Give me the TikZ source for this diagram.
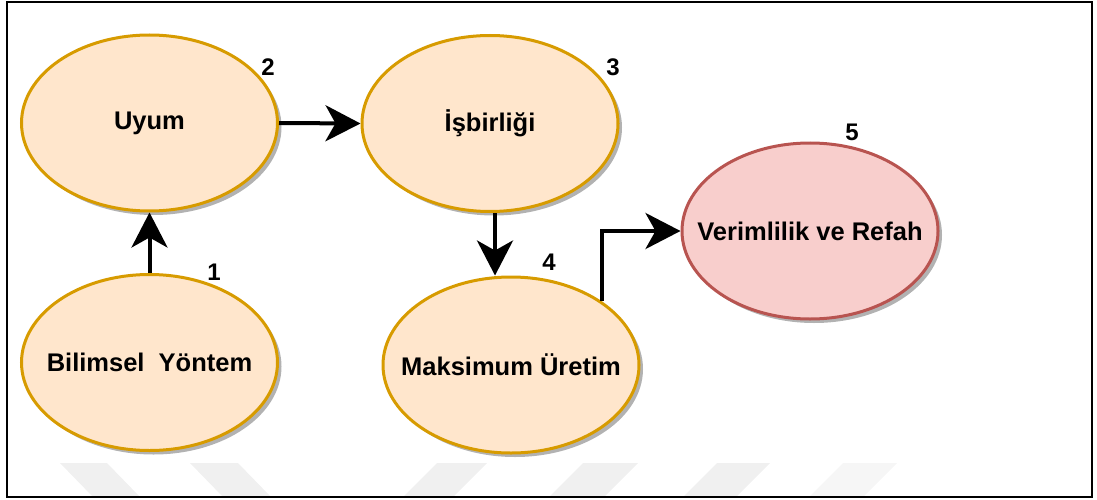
\documentclass[tikz,border=0pt]{standalone}
\usepackage{fontspec}
\setmainfont{Liberation Sans}
\usetikzlibrary{shapes.geometric,arrows.meta,shadows}
\definecolor{orfill}{HTML}{FFE6CC}
\definecolor{ordraw}{HTML}{D79B00}
\definecolor{rdfill}{HTML}{F8CECC}
\definecolor{rddraw}{HTML}{B85450}
\definecolor{wmark}{HTML}{F0F0F0}
\begin{document}
\begin{tikzpicture}[x=1pt,y=-1pt,
  bubble/.style={ellipse, minimum width=256pt, minimum height=176pt, inner sep=0pt,
    line width=3pt,
    drop shadow={shadow xshift=4pt, shadow yshift=-4pt, opacity=.3, fill=black},
    label={[font=\bfseries\fontsize{25.5}{28}\selectfont, inner sep=0pt]center:#1}},
  orangebubble/.style={bubble={#1}, fill=orfill, draw=ordraw},
  redbubble/.style={bubble={#1}, fill=rdfill, draw=rddraw},
  num/.style={font=\bfseries\fontsize{24}{28}\selectfont, inner sep=0pt},
  arr/.style={line width=4pt, -{Stealth[length=35pt,width=36pt,inset=10pt]}},
  band/.style={fill=wmark, draw=none}]
\useasboundingbox (0,0) rectangle (1097,500);

% faint chevron bands along the bottom edge
\fill[band] (60,463) -- (107,463) -- (140,497) -- (93,497) -- cycle;
\fill[band] (190,463) -- (238,463) -- (271,497) -- (223,497) -- cycle;
\fill[band] (437,463) -- (487,463) -- (453,497) -- (403,497) -- cycle;
\fill[band] (583,463) -- (638,463) -- (604,497) -- (549,497) -- cycle;
\fill[band] (717,463) -- (770,463) -- (736,497) -- (683,497) -- cycle;
\fill[band, opacity=.6] (843,463) -- (897,463) -- (863,497) -- (809,497) -- cycle;

% outer frame
\draw[line width=2.5pt] (7,2) rectangle (1092,497);

% process stages
\node[orangebubble={Uyum}] (uyum) at (149.5,123) {};
\node[orangebubble={İşbirliği}] (isb) at (490,123.5) {};
\node[orangebubble={Bilimsel\ \ Yöntem}] (bil) at (149.5,362.5) {};
\node[orangebubble={Maksimum Üretim}] (maks) at (511,365) {};
\node[redbubble={Verimlilik ve Refah}] (ver) at (810,231) {};

% step numbers
\node[num] (n1) at (214,272) {1};
\node[num] (n2) at (268,67) {2};
\node[num] (n3) at (613,67) {3};
\node[num] (n4) at (549,262) {4};
\node[num] (n5) at (852,132) {5};

% flow
\draw[arr] (bil.north) -- (uyum.south);
\draw[arr] (uyum.east) -- (isb.west);
\draw[arr] ([xshift=5pt]isb.south) -- ([xshift=-16pt]maks.north);
\draw[arr] (maks.35) |- (ver.west);
\end{tikzpicture}
\end{document}
